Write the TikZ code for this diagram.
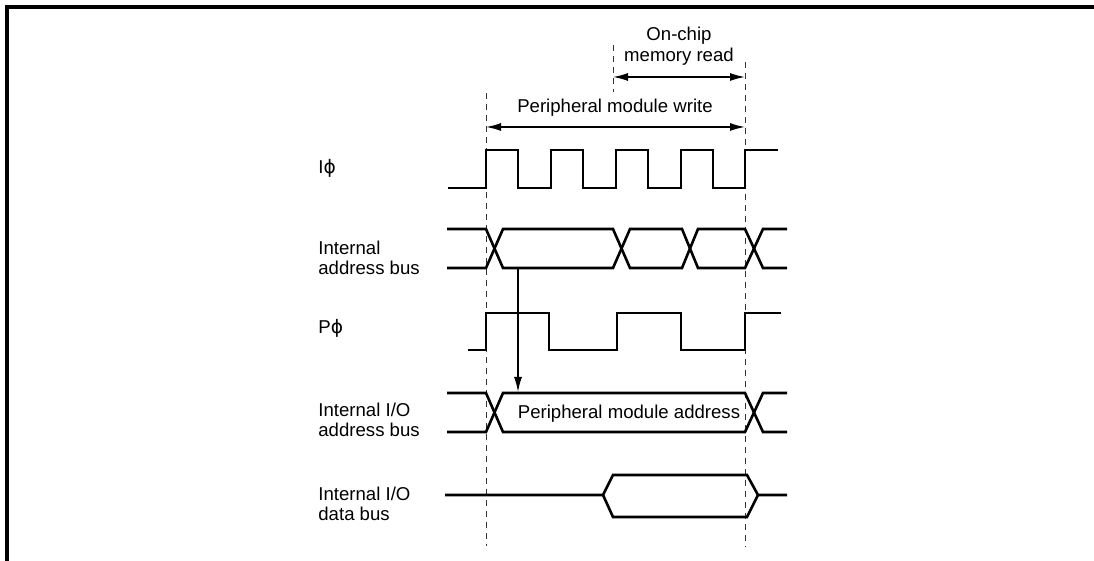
\documentclass[tikz,border=0pt]{standalone}
\usepackage{fontspec}
\setmainfont{Liberation Sans}
\newfontfamily\phifont{DejaVu Sans}
\usetikzlibrary{arrows.meta}
\newcommand{\clkphi}{{\phifont\char"03D5}}

\begin{document}
\begin{tikzpicture}[x=0.5pt,y=-0.5pt,
    sig/.style={line width=1.3pt,line join=miter},
    guide/.style={dash pattern=on 3pt off 2.5pt,line width=0.5pt,black!80},
    dimarrow/.style={line width=0.7pt,{Latex[length=7.5pt,width=4pt]}-{Latex[length=7.5pt,width=4pt]}},
    lbl/.style={anchor=west,align=left,font=\fontsize{9.3}{10}\selectfont,inner sep=0pt}]
  \useasboundingbox (0,0) rectangle (1094,561);
  % frame
  \draw[line width=1.6pt] (7,561) -- (7,7) -- (1094,7);

  % signal names
  \node[lbl] (nIphi) at (318,168) {I\clkphi};
  \node[lbl] (nIab)  at (318,258) {Internal\\address bus};
  \node[lbl] (nPphi) at (318,328) {P\clkphi};
  \node[lbl] (nIOab) at (318,420) {Internal I/O\\address bus};
  \node[lbl] (nIOdb) at (318,504) {Internal I/O\\data bus};

  % guide lines
  \draw[guide] (486,93) -- (486,546);
  \draw[guide] (745,62) -- (745,547);
  \draw[guide] (613,45) -- (613,92);

  % access periods
  \coordinate (rdA) at (613,77);
  \coordinate (rdB) at (745,77);
  \coordinate (wrA) at (486,127);
  \coordinate (wrB) at (745,127);
  \draw[dimarrow] (rdA) -- (rdB);
  \draw[dimarrow] (wrA) -- (wrB);
  \node[align=center,font=\fontsize{9.3}{10.5}\selectfont] (tRead) at (679,46) {On-chip\\memory read};
  \node[font=\fontsize{9.3}{10}\selectfont] (tWrite) at (615,108) {Peripheral module write};

  % I phi
  \draw[sig] (448,188) foreach \x in {486,551,616,681} {
      -- (\x,188) -- (\x,150) -- (\x+32,150) -- (\x+32,188) }
    -- (745,188) -- (745,150) -- (778,150);

  % internal address bus
  \draw[sig] (447,229) -- (486,229) -- (503,268) -- (613,268) -- (630,229) -- (682,229)
    -- (698,268) -- (745,268) -- (763,229) -- (787,229);
  \draw[sig] (447,268) -- (486,268) -- (503,229) -- (613,229) -- (630,268) -- (682,268)
    -- (698,229) -- (745,229) -- (763,268) -- (787,268);

  % P phi
  \draw[sig] (468,350) -- (486,350) -- (486,313) -- (549,313) -- (549,350) -- (617,350)
    -- (617,313) -- (681,313) -- (681,350) -- (745,350) -- (745,313) -- (781,313);

  % internal I/O address bus
  \draw[sig] (447,393) -- (486,393) -- (503,432) -- (745,432) -- (763,393) -- (787,393);
  \draw[sig] (447,432) -- (486,432) -- (503,393) -- (745,393) -- (763,432) -- (787,432);
  \node[font=\fontsize{9.3}{10}\selectfont] (tAddr) at (629,414) {Peripheral module address};

  % address -> I/O address
  \coordinate (adrOut) at (518,268);
  \coordinate (adrIn) at (518,392);
  \draw[line width=0.7pt,-{Latex[length=7.5pt,width=4pt]}] (adrOut) -- (adrIn);

  % internal I/O data bus
  \draw[sig] (445,495) -- (603,495) -- (613,475) -- (747,475) -- (758,495) -- (787,495);
  \draw[sig] (603,495) -- (613,517) -- (747,517) -- (758,495);
\end{tikzpicture}
\end{document}
